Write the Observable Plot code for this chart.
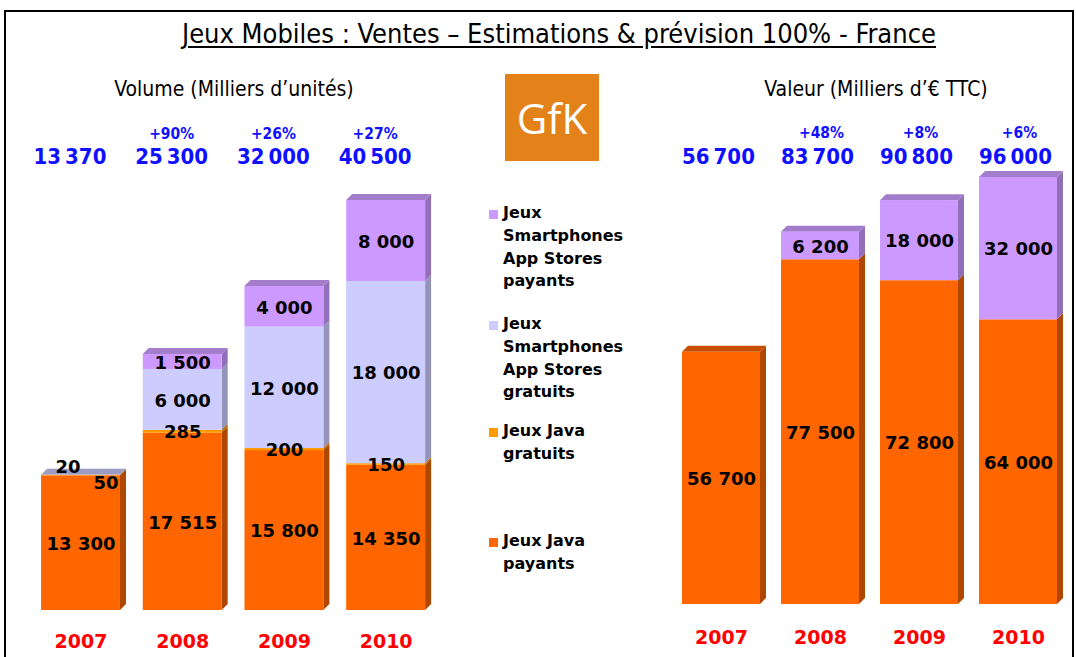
<!DOCTYPE html>
<html><head><meta charset="utf-8">
<script src="https://cdn.jsdelivr.net/npm/d3@7"></script>
<script src="https://cdn.jsdelivr.net/npm/@observablehq/plot@0.6"></script>
<style>
html,body{margin:0;padding:0;background:#fff;overflow:hidden;}
#root{position:relative;width:1076px;height:657px;overflow:hidden;}
#frame{position:absolute;left:4px;top:10px;width:1066px;height:700px;border:2px solid #000;}
.abs{position:absolute;}
#title{left:0;width:1118px;top:18px;text-align:center;font-family:"Liberation Sans Narrow","DejaVu Sans Condensed",sans-serif;font-size:27px;text-decoration:underline;text-underline-offset:3px;color:#000;}
.sub{top:77px;font-family:"Liberation Sans Narrow","DejaVu Sans Condensed",sans-serif;font-size:21px;text-align:center;color:#000;}
#logo{left:505px;top:74px;width:94px;height:87px;background:#E4821A;color:#fff;font-family:"Open Sans",sans-serif;font-size:42px;text-align:center;line-height:87px;}
.leg{font-family:"DejaVu Sans",Verdana,sans-serif;font-weight:bold;font-size:16px;line-height:22.8px;color:#000;}
.sw{position:absolute;width:9px;height:9px;}
</style></head>
<body><div id="root"><div id="frame"></div></div>
<script>
// ---------- data ----------
const years = ["2007", "2008", "2009", "2010"];
const seriesNames = ["Jeux Smartphones App Stores payants", "Jeux Smartphones App Stores gratuits", "Jeux Java gratuits", "Jeux Java payants"];
const seriesColors = ["#CC99FF", "#CCCCFF", "#FF9900", "#FF6600"];
const seriesSide = ["#9270B8", "#9494B8", "#B86E00", "#B04700"];
const seriesTop = ["#A47CCC", "#9C9CC4", "#CC7A00", "#C65000"];
// Volume (Milliers d'unités)
const volJavaPayants = [13300, 17515, 15800, 14350];
const volJavaGratuits = [50, 285, 200, 150];
const volSmartGratuits = [20, 6000, 12000, 18000];
const volSmartPayants = [0, 1500, 4000, 8000];
const volTotals = [13370, 25300, 32000, 40500];
const volGrowth = ["", "+90%", "+26%", "+27%"];
// Valeur (Milliers d'€ TTC)
const valJavaPayants = [56700, 77500, 72800, 64000];
const valSmartPayants = [0, 6200, 18000, 32000];
const valTotals = [56700, 83700, 90800, 96000];
const valGrowth = ["", "+48%", "+8%", "+6%"];

const titleText = "Jeux Mobiles : Ventes – Estimations & prévision 100% - France";
const volTitle = "Volume (Milliers d’unités)";
const valTitle = "Valeur (Milliers d’€ TTC)";

const fmt = v => d3.format(",")(v).replace(/,/g, " ");
const fmtTight = v => d3.format(",")(v).replace(/,/g, "\u2009");

const root = document.getElementById("root");
function addDiv(cls, id, html, style) {
  const d = document.createElement("div");
  d.className = cls; if (id) d.id = id; d.innerHTML = html;
  if (style) Object.assign(d.style, style);
  root.appendChild(d); return d;
}
addDiv("abs", "title", titleText);
addDiv("abs sub", null, volTitle, {left: "84px", width: "300px"});
addDiv("abs sub", null, valTitle, {left: "726px", width: "300px"});
addDiv("abs", "logo", "GfK");

// legend
const legTops = [202, 313, 420, 530];
const legLines = [["Jeux", "Smartphones", "App Stores", "payants"], ["Jeux", "Smartphones", "App Stores", "gratuits"], ["Jeux Java", "gratuits"], ["Jeux Java", "payants"]];
seriesNames.forEach((n, i) => {
  addDiv("abs leg", null, legLines[i].join("<br>"), {left: "503px", top: legTops[i] + "px"});
  addDiv("sw", null, "", {left: "489px", top: (legTops[i] + 8) + "px", background: seriesColors[i]});
});

// ---------- 3D stacked chart ----------
function chart(cfg) {
  const {series, totals, growth, ymax, width, height, mt, mb, ml, mr, half, depthPx, pxPerStep, left, totDy, grDy, yearDy, totDx, grDx, smallLabels} = cfg;
  const yPerPx = ymax / (height - mt - mb);
  const dxU = depthPx / pxPerStep;
  const dyU = depthPx * yPerPx;
  const rects = [], sides = [], tops = [], labels = [];
  years.forEach((yr, i) => {
    let base = 0;
    const segs = [];
    series.forEach(s => {
      const v = s.values[i];
      segs.push({s, v, y1: base, y2: base + v});
      base += v;
    });
    const nz = segs.filter(g => g.v > 0);
    nz.forEach((g, k) => {
      const x1 = i - half, x2 = i + half;
      rects.push({x1, x2, y1: g.y1, y2: g.y2, fill: g.s.color});
      const id = `${i}-${g.s.idx}`;
      sides.push({id, x: x2, y1: g.y1, y2: g.y2, fill: g.s.side});
      sides.push({id, x: x2 + dxU, y1: g.y1 + dyU, y2: g.y2 + dyU, fill: g.s.side});
      if (k === nz.length - 1) {
        const t = g.y2;
        const tid = "t" + i;
        tops.push({id: tid, x: x1, y1: t, y2: t, fill: g.s.top});
        tops.push({id: tid, x: x1 + dxU, y1: t, y2: t + dyU, fill: g.s.top});
        tops.push({id: tid, x: x2, y1: t, y2: t + dyU, fill: g.s.top});
        tops.push({id: tid, x: x2 + dxU, y1: t + dyU, y2: t + dyU, fill: g.s.top});
      }
      if (g.v < 1000 && smallLabels) {
        const o = smallLabels(i, g, k, nz.length);
        labels.push({x: i + o[0] / pxPerStep, y: g.y2 - o[1] * yPerPx, text: fmt(g.v)});
      } else {
        labels.push({x: i, y: (g.y1 + g.y2) / 2 - 1 * yPerPx, text: fmt(g.v)});
      }
    });
  });
  const bold = "DejaVu Sans, Verdana, sans-serif";
  const narrow = "DejaVu Sans Condensed, sans-serif";
  const p = Plot.plot({
    width, height, marginTop: mt, marginBottom: mb, marginLeft: ml, marginRight: mr,
    x: {type: "linear", domain: [-0.5, 3.5], axis: null},
    y: {domain: [0, ymax], axis: null},
    color: {type: "identity"},
    style: {background: "transparent", overflow: "visible"},
    marks: [
      Plot.areaY(sides, {x: "x", y1: "y1", y2: "y2", z: "id", fill: "fill", curve: "linear"}),
      Plot.areaY(tops, {x: "x", y1: "y1", y2: "y2", z: "id", fill: "fill", curve: "linear"}),
      Plot.rect(rects, {x1: "x1", x2: "x2", y1: "y1", y2: "y2", fill: "fill"}),
      Plot.text(labels, {x: "x", y: "y", text: "text", fontFamily: bold, fontWeight: "bold", fontSize: 18, fill: "#000"}),
      Plot.text(years, {x: (d, i) => i, text: d => d, frameAnchor: "bottom", lineAnchor: "middle", dy: yearDy, fontFamily: bold, fontWeight: "bold", fontSize: 19, fill: "#FF0000"}),
      Plot.text(totals, {x: (d, i) => i, text: d => fmtTight(d), frameAnchor: "top", lineAnchor: "middle", dy: totDy, dx: totDx, fontFamily: narrow, fontWeight: "bold", fontSize: 22, fill: "#1010FF"}),
      Plot.text(growth, {x: (d, i) => i, text: d => d, frameAnchor: "top", lineAnchor: "middle", dy: grDy, dx: grDx, fontFamily: narrow, fontWeight: "bold", fontSize: 15.5, fill: "#1010FF"})
    ]
  });
  p.style.position = "absolute"; p.style.left = left + "px"; p.style.top = "0px";
  root.appendChild(p);
}

const volSeries = [
  {idx: 3, values: volJavaPayants},
  {idx: 2, values: volJavaGratuits},
  {idx: 1, values: volSmartGratuits},
  {idx: 0, values: volSmartPayants}
].map(s => ({...s, color: seriesColors[s.idx], side: seriesSide[s.idx], top: seriesTop[s.idx]}));
const valSeries = [
  {idx: 3, values: valJavaPayants},
  {idx: 0, values: valSmartPayants}
].map(s => ({...s, color: seriesColors[s.idx], side: seriesSide[s.idx], top: seriesTop[s.idx]}));

chart({
  series: volSeries, totals: volTotals, growth: volGrowth, ymax: 40500,
  width: 460, height: 657, mt: 200, mb: 47, ml: 29.65, mr: 23.5,
  half: 0.388, depthPx: 6, pxPerStep: 101.7, left: 0,
  totDy: -44, grDy: -66, yearDy: 31, totDx: -11, grDx: -11,
  smallLabels: (i, g, k, n) => i === 0 ? (k === n - 1 ? [-13, -8] : [25, 8]) : [0, 2]
});
chart({
  series: valSeries, totals: valTotals, growth: valGrowth, ymax: 96000,
  width: 476, height: 657, mt: 177, mb: 53, ml: 71.5, mr: 8.5,
  half: 0.394, depthPx: 6, pxPerStep: 99, left: 600,
  totDy: -21, grDy: -44, yearDy: 33, totDx: -3, grDx: 1,
  smallLabels: null
});
</script></body></html>
